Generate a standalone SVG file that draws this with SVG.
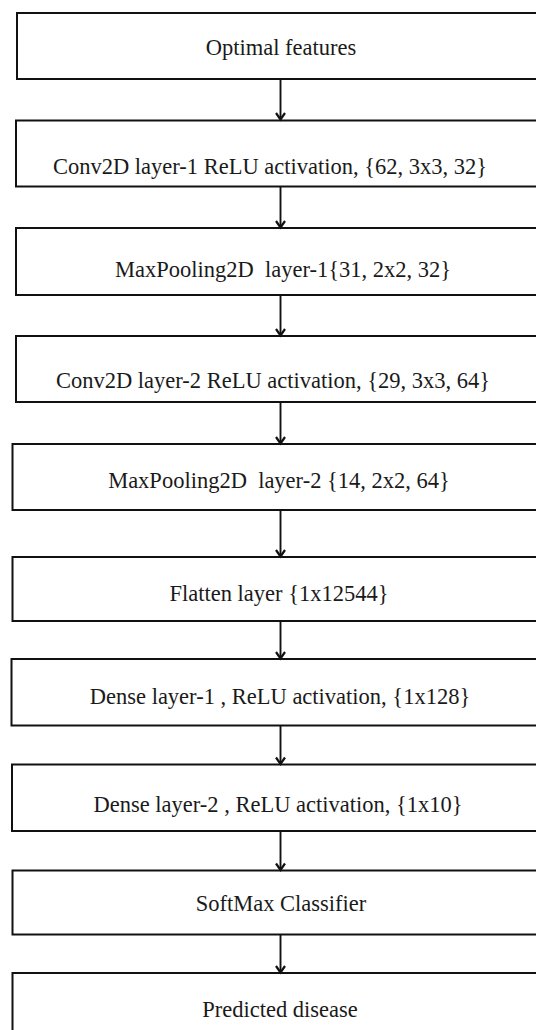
<svg xmlns="http://www.w3.org/2000/svg" width="536" height="1030" viewBox="0 0 536 1030">
<defs>
<style>
.box{fill:#fff;stroke:#111;stroke-width:2}
.lbl{font-family:"Liberation Serif","Times New Roman",serif;font-size:22.5px;fill:#1a1a1a;text-anchor:middle;white-space:pre}
.conn{stroke:#111;stroke-width:1.9;fill:none}
.head{stroke:#111;stroke-width:2.2;fill:none;stroke-linejoin:miter}
</style>
</defs>
<rect width="536" height="1030" fill="#fff"/>
<g id="n1"><rect class="box" x="17" y="13" width="540" height="66"/><text class="lbl" x="281" y="55">Optimal features</text></g>
<g id="n2"><rect class="box" x="16" y="120.5" width="540" height="66"/><text class="lbl" x="270" y="174">Conv2D layer-1 ReLU activation, {62, 3x3, 32}</text></g>
<g id="n3"><rect class="box" x="16" y="228" width="540" height="67"/><text class="lbl" x="283" y="277" xml:space="preserve">MaxPooling2D  layer-1{31, 2x2, 32}</text></g>
<g id="n4"><rect class="box" x="16" y="336" width="540" height="66"/><text class="lbl" x="273" y="388">Conv2D layer-2 ReLU activation, {29, 3x3, 64}</text></g>
<g id="n5"><rect class="box" x="12.5" y="444" width="540" height="66"/><text class="lbl" x="279" y="488" xml:space="preserve">MaxPooling2D  layer-2 {14, 2x2, 64}</text></g>
<g id="n6"><rect class="box" x="12.5" y="557" width="540" height="64"/><text class="lbl" x="279" y="601">Flatten layer {1x12544}</text></g>
<g id="n7"><rect class="box" x="11.5" y="659" width="540" height="66.5"/><text class="lbl" x="280" y="703.5">Dense layer-1 , ReLU activation, {1x128}</text></g>
<g id="n8"><rect class="box" x="12" y="764.5" width="540" height="66.5"/><text class="lbl" x="278" y="812">Dense layer-2 , ReLU activation, {1x10}</text></g>
<g id="n9"><rect class="box" x="12.5" y="870.5" width="540" height="64"/><text class="lbl" x="281" y="911">SoftMax Classifier</text></g>
<g id="n10"><rect class="box" x="12.5" y="973" width="540" height="70"/><text class="lbl" x="280" y="1017">Predicted disease</text></g>
<g id="connectors">
<path class="conn" d="M280.5 79V119"/><path class="head" d="M276 113L280.5 119.5L285 113"/>
<path class="conn" d="M280.5 186.5V227"/><path class="head" d="M276 221L280.5 227.5L285 221"/>
<path class="conn" d="M280.5 295V335"/><path class="head" d="M276 329L280.5 335.5L285 329"/>
<path class="conn" d="M280.5 402V443"/><path class="head" d="M276 437L280.5 443.5L285 437"/>
<path class="conn" d="M280.5 510V556"/><path class="head" d="M276 550L280.5 556.5L285 550"/>
<path class="conn" d="M280.5 621V658"/><path class="head" d="M276 652L280.5 658.5L285 652"/>
<path class="conn" d="M280.5 725.5V763.5"/><path class="head" d="M276 757.5L280.5 764L285 757.5"/>
<path class="conn" d="M280.5 831V869.5"/><path class="head" d="M276 863.5L280.5 870L285 863.5"/>
<path class="conn" d="M280.5 934.5V972"/><path class="head" d="M276 966L280.5 972.5L285 966"/>
</g>
</svg>
